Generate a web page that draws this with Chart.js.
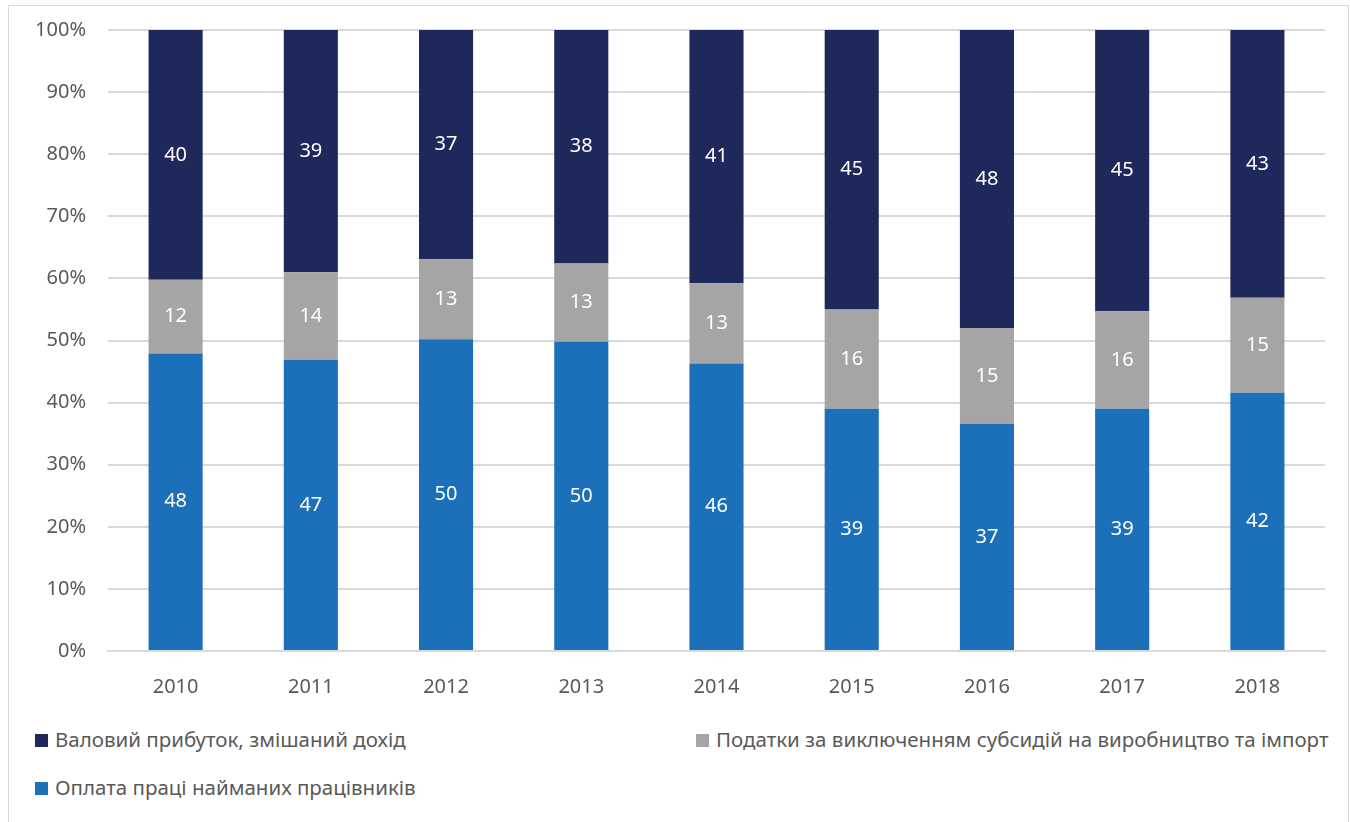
<!DOCTYPE html>
<html>
<head>
<meta charset="utf-8">
<script src="https://cdn.jsdelivr.net/npm/chart.js@4/dist/chart.umd.min.js"></script>
<style>
  body { margin: 0; background: #fff; font-family: "Noto Sans", sans-serif; }
  #frame { position: absolute; left: 8px; top: 5px; width: 1339px; height: 840px; border: 1px solid #d9d9d9; }
  #wrap { position: absolute; left: 0; top: 0; width: 1350px; height: 720px; }
  .leg { position: absolute; font-size: 20.5px; color: #595959; white-space: nowrap; line-height: 24px; }
  .leg i { display: inline-block; width: 13px; height: 13px; margin-right: 7px; vertical-align: 0px; }
</style>
</head>
<body>
<div id="frame"></div>
<div id="wrap"><canvas id="barChart"></canvas></div>
<div class="leg" style="left:35px; top:727px"><i style="background:#1f285a"></i>Валовий прибуток, змішаний дохід</div>
<div class="leg" style="left:696px; top:727px"><i style="background:#a5a5a5"></i>Податки за виключенням субсидій на виробництво та імпорт</div>
<div class="leg" style="left:35px; top:775px"><i style="background:#1b70b9"></i>Оплата праці найманих працівників</div>
<script>
var years = ['2010', '2011', '2012', '2013', '2014', '2015', '2016', '2017', '2018'];
// частки, % (підписи округлені)
var wages = [47.9, 46.9, 50.2, 49.8, 46.3, 39.0, 36.6, 39.0, 41.6];
var taxes = [11.9, 14.1, 12.9, 12.6, 12.9, 16.0, 15.4, 15.7, 15.3];
var profit = [40.2, 39.0, 36.9, 37.6, 40.8, 45.0, 48.0, 45.3, 43.1];

// підписи всередині стовпців
var barLabels = {
  id: 'barLabels',
  afterDatasetsDraw: function(chart) {
    var ctx = chart.ctx;
    ctx.save();
    ctx.fillStyle = '#ffffff';
    ctx.font = '20px "Noto Sans"';
    ctx.textAlign = 'center';
    ctx.textBaseline = 'middle';
    chart.data.datasets.forEach(function(ds, i) {
      chart.getDatasetMeta(i).data.forEach(function(bar, j) {
        ctx.fillText(Math.round(ds.data[j]), bar.x, (bar.y + bar.base) / 2);
      });
    });
    ctx.restore();
  }
};

window.onload = function() {
  var ctx = document.getElementById('barChart').getContext('2d');
  new Chart(ctx, {
    type: 'bar',
    data: {
      labels: years,
      datasets: [
        { label: 'Оплата праці найманих працівників', data: wages, backgroundColor: '#1b70b9' },
        { label: 'Податки за виключенням субсидій на виробництво та імпорт', data: taxes, backgroundColor: '#a5a5a5' },
        { label: 'Валовий прибуток, змішаний дохід', data: profit, backgroundColor: '#1f285a' }
      ]
    },
    options: {
      responsive: true,
      maintainAspectRatio: false,
      animation: false,
      barPercentage: 0.4,
      categoryPercentage: 1,
      layout: { padding: { top: 30, left: 8, right: 25, bottom: 19 } },
      plugins: { legend: { display: false }, tooltip: { enabled: false } },
      scales: {
        x: {
          stacked: true,
          grid: { display: false },
          border: { color: '#d9d9d9', width: 2 },
          ticks: { color: '#595959', font: { family: 'Noto Sans', size: 20 }, padding: 16 },
          afterFit: function(s) { s.height = 50; }
        },
        y: {
          stacked: true,
          min: 0,
          max: 100,
          border: { display: false },
          grid: { color: '#d9d9d9', lineWidth: 2, drawTicks: false },
          ticks: {
            stepSize: 10,
            color: '#595959',
            font: { family: 'Noto Sans', size: 20 },
            padding: 22,
            callback: function(v) { return v + '%'; }
          },
          afterFit: function(s) { s.width = 100; s.paddingTop = 0; s.paddingBottom = 0; }
        }
      }
    },
    plugins: [barLabels]
  });
};
</script>
</body>
</html>
